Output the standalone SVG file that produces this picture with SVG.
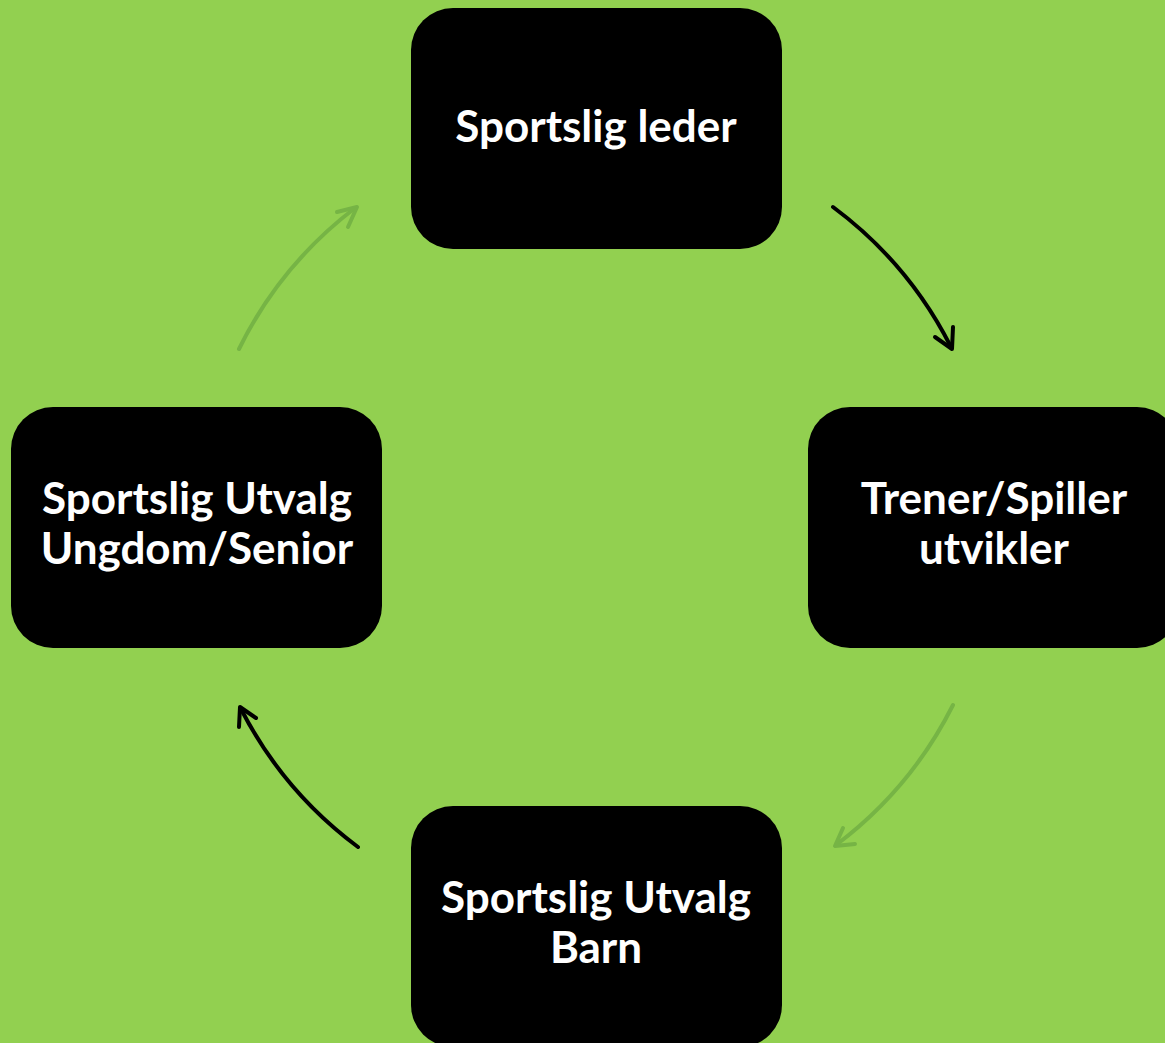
<svg xmlns="http://www.w3.org/2000/svg" width="1165" height="1043" viewBox="0 0 1165 1043">
<style>
.node{fill:#000000}
.lbl{fill:#ffffff;font-family:Lato,"Liberation Sans",sans-serif;font-weight:bold;font-size:44px;text-anchor:middle}
.dark{fill:none;stroke:#000000;stroke-width:4;stroke-linecap:round;stroke-linejoin:round}
.light{fill:none;stroke:#76b445;stroke-width:4;stroke-linecap:round;stroke-linejoin:round}
</style>
<rect x="0" y="0" width="1165" height="1043" fill="#92d050"/>
<g id="connectors">
<path class="dark" d="M833 207 A399 399 0 0 1 951 347"/>
<path class="dark" d="M953 327 L952 349 L935 337"/>
<path class="light" d="M953 705 A399 399 0 0 1 836 845"/>
<path class="light" d="M843 828 L835 846 L855 844"/>
<path class="dark" d="M358 847 A399 399 0 0 1 241 709"/>
<path class="dark" d="M239 727 L240 707 L256 718"/>
<path class="light" d="M239 349 A399 399 0 0 1 355 208"/>
<path class="light" d="M337 212 L357 207 L348 227"/>
</g>
<g id="node-sportslig-leder">
<rect class="node" x="411" y="8" width="371" height="241" rx="42"/>
<text class="lbl" x="596" y="142">Sportslig leder</text>
</g>
<g id="node-trener-spiller">
<rect class="node" x="808" y="407" width="371" height="241" rx="42"/>
<text class="lbl" x="994" y="514">Trener/Spiller</text>
<text class="lbl" x="994" y="564">utvikler</text>
</g>
<g id="node-utvalg-barn">
<rect class="node" x="411" y="806" width="371" height="241" rx="42"/>
<text class="lbl" x="596" y="913">Sportslig Utvalg</text>
<text class="lbl" x="596" y="963">Barn</text>
</g>
<g id="node-utvalg-ungdom">
<rect class="node" x="11" y="407" width="371" height="241" rx="42"/>
<text class="lbl" x="197" y="514">Sportslig Utvalg</text>
<text class="lbl" x="197" y="564">Ungdom/Senior</text>
</g>
</svg>
